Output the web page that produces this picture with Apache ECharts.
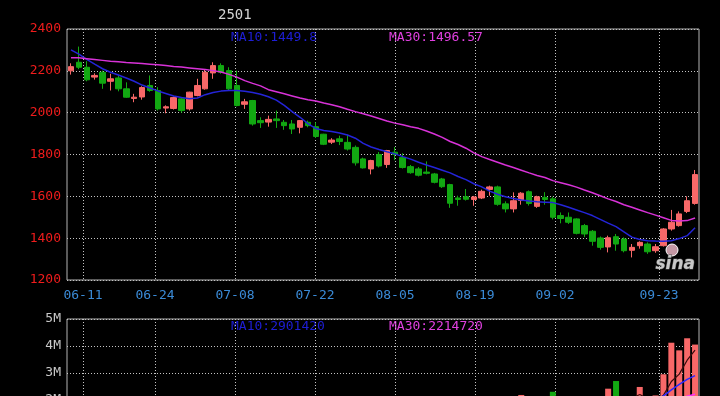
<!DOCTYPE html>
<html>
<head>
<meta charset="utf-8">
<script src="https://cdn.jsdelivr.net/npm/echarts@6/dist/echarts.min.js"></script>
<style>
html,body{margin:0;padding:0;background:#000;}
#chart{width:720px;height:396px;}
</style>
</head>
<body>
<div id="chart"></div>
<script>
const dates = ['06-06','06-07','06-11','06-12','06-13','06-14','06-17','06-18','06-19','06-20','06-21','06-24','06-25','06-26','06-27','06-28',
'07-01','07-02','07-03','07-04','07-05','07-08','07-09','07-10','07-11','07-12','07-15','07-16','07-17','07-18','07-19','07-22','07-23','07-24','07-25','07-26','07-29','07-30','07-31',
'08-01','08-02','08-05','08-06','08-07','08-08','08-09','08-12','08-13','08-14','08-15','08-16','08-19','08-20','08-21','08-22','08-23','08-26','08-27','08-28','08-29','08-30',
'09-02','09-03','09-04','09-05','09-06','09-09','09-10','09-11','09-12','09-13','09-18','09-19','09-20','09-23','09-24','09-25','09-26','09-27','09-30'];
const tickDates = ['06-11','06-24','07-08','07-22','08-05','08-19','09-02','09-23'];

const openP  = [2200,2241,2217,2170,2193,2150,2166,2114,2068,2075,2130,2106,2022,2020,2066,2018,2082,2114,2190,2225,2201,2130,2040,2058,1962,1955,1970,1954,1946,1930,1954,1933,1897,1859,1875,1858,1834,1779,1731,1800,1752,1811,1785,1742,1731,1716,1707,1683,1656,1592,1598,1585,1592,1633,1645,1564,1540,1580,1622,1552,1595,1588,1508,1500,1492,1460,1433,1401,1358,1407,1396,1342,1364,1372,1340,1364,1444,1460,1528,1566];
const closeP = [2220,2217,2157,2178,2141,2162,2114,2074,2074,2120,2106,2018,2028,2072,2010,2098,2130,2193,2225,2193,2114,2034,2052,1946,1952,1968,1962,1938,1922,1962,1938,1886,1849,1869,1862,1826,1760,1736,1771,1745,1819,1800,1738,1713,1701,1710,1667,1646,1567,1585,1586,1597,1624,1645,1562,1540,1579,1615,1566,1598,1585,1500,1494,1476,1423,1420,1385,1356,1402,1372,1340,1356,1380,1335,1359,1444,1476,1516,1579,1704];
const lowP   = [2182,2208,2150,2158,2114,2106,2102,2071,2050,2062,2100,2010,1997,2015,2000,2010,2078,2110,2162,2186,2106,2030,2018,1938,1927,1933,1927,1918,1898,1901,1930,1879,1845,1850,1845,1819,1747,1733,1705,1738,1736,1773,1733,1708,1695,1705,1662,1640,1545,1555,1580,1555,1587,1603,1555,1523,1523,1560,1556,1545,1560,1490,1471,1468,1418,1405,1364,1345,1332,1340,1332,1308,1350,1325,1330,1360,1436,1455,1520,1560];
const highP  = [2236,2316,2246,2188,2201,2186,2177,2145,2090,2126,2178,2122,2035,2077,2072,2100,2162,2205,2241,2236,2217,2201,2066,2061,1978,1986,2010,1965,1965,1965,1962,1954,1899,1878,1890,1895,1843,1785,1775,1812,1822,1836,1806,1750,1740,1767,1712,1688,1660,1603,1635,1602,1632,1651,1651,1576,1619,1620,1628,1603,1620,1598,1523,1523,1495,1468,1439,1408,1412,1420,1404,1372,1385,1380,1372,1448,1535,1528,1600,1726];

const ma10 = [2300,2280,2255,2232,2210,2193,2180,2166,2150,2132,2118,2104,2092,2080,2072,2066,2070,2086,2096,2103,2106,2106,2102,2096,2088,2076,2060,2035,2005,1978,1948,1924,1915,1910,1903,1893,1878,1853,1836,1824,1813,1803,1790,1778,1763,1750,1738,1725,1712,1695,1680,1660,1645,1625,1610,1598,1590,1583,1578,1574,1572,1570,1560,1548,1535,1522,1508,1490,1472,1455,1430,1405,1394,1388,1386,1385,1388,1398,1412,1449.8];
const ma30 = [2262,2262,2258,2254,2250,2246,2243,2240,2238,2235,2232,2229,2225,2221,2218,2214,2210,2206,2201,2194,2183,2170,2153,2140,2128,2110,2100,2090,2080,2070,2062,2056,2046,2038,2028,2016,2005,1995,1984,1972,1960,1950,1942,1933,1925,1912,1898,1882,1862,1848,1830,1808,1790,1776,1763,1750,1738,1725,1712,1700,1690,1675,1665,1655,1644,1630,1617,1603,1588,1575,1560,1548,1535,1522,1510,1498,1485,1482,1484,1496.57];

const volume = [1534200,1687400,1421900,1365800,1498300,1576200,1302700,1445100,1612800,1389500,
1723600,1567300,1356900,1478200,1410600,1634700,1826300,1954100,1782500,1598600,
1705200,1846900,1412300,1769800,1356400,1289700,1533800,1402100,1478600,1367500,
1298400,1627300,1745900,1384200,1412700,1565300,1886200,1621400,1498700,1537600,
1718400,1493800,1622900,1584100,1476300,1399800,1542600,1613200,1927500,1688900,
1652300,1488200,1734600,1897500,2012800,1563900,1846100,2186400,1921400,1705800,
1584700,2304700,1612300,1478900,1936200,1702500,1874600,1803300,2418900,2702300,
1852300,1553600,2482700,1704500,2168900,2953100,4121600,3838400,4286300,4052800];

const RED = '#f86868', GREEN = '#12a812';
const MONO = '"DejaVu Sans Mono", "Liberation Mono", monospace';
const tickSet = new Set(tickDates);
const dotted = { color: '#c4c4c4', type: [1, 2], width: 1 };

function movingAvg(arr, n) {
  return arr.map((v, i) => {
    if (i < n - 1) return '-';
    let s = 0;
    for (let j = i - n + 1; j <= i; j++) s += arr[j];
    return s / n;
  });
}

const candles = openP.map((o, i) => [o, closeP[i], lowP[i], highP[i]]);
const volBars = volume.map((v, i) => ({ value: v, itemStyle: { color: closeP[i] >= openP[i] ? RED : GREEN } }));
const vma5 = movingAvg(volume, 5), vma10 = movingAvg(volume, 10), vma30 = movingAvg(volume, 30);

const chart = echarts.init(document.getElementById('chart'), null, { renderer: 'canvas' });
const lastIdx = dates.length - 1;
chart.setOption({
  backgroundColor: '#000',
  animation: false,
  grid: [
    { left: 67, right: 21, top: 29, height: 251, show: true, borderColor: '#b4b4b4', borderWidth: 1, backgroundColor: 'transparent', containLabel: false, outerBoundsMode: 'none' },
    { left: 67, right: 21, top: 319, height: 135, show: true, borderColor: '#b4b4b4', borderWidth: 1, backgroundColor: 'transparent', containLabel: false, outerBoundsMode: 'none' }
  ],
  xAxis: [
    { type: 'category', gridIndex: 0, data: dates, boundaryGap: true, show: false },
    { type: 'category', gridIndex: 0, data: dates, boundaryGap: false, position: 'bottom',
      axisLine: { show: false }, axisTick: { show: false },
      axisLabel: { interval: (i, v) => tickSet.has(v), color: '#3a8ad6', fontFamily: MONO, fontSize: 13, margin: 9 },
      splitLine: { show: true, interval: (i, v) => tickSet.has(v), lineStyle: dotted } },
    { type: 'category', gridIndex: 1, data: dates, boundaryGap: true, show: false },
    { type: 'category', gridIndex: 1, data: dates, boundaryGap: false, position: 'bottom',
      axisLine: { show: false }, axisTick: { show: false }, axisLabel: { show: false },
      splitLine: { show: true, interval: (i, v) => tickSet.has(v), lineStyle: dotted } }
  ],
  yAxis: [
    { type: 'value', gridIndex: 0, min: 1200, max: 2400, interval: 200,
      axisLine: { show: false }, axisTick: { show: false },
      axisLabel: { color: '#f01c1c', fontFamily: MONO, fontSize: 13, margin: 6, formatter: v => String(v) },
      splitLine: { show: true, lineStyle: dotted } },
    { type: 'value', gridIndex: 1, min: 0, max: 5000000, interval: 1000000,
      axisLine: { show: false }, axisTick: { show: false },
      axisLabel: { color: '#c8c8c8', fontFamily: MONO, fontSize: 13, margin: 6, formatter: v => (v / 1000000) + 'M' },
      splitLine: { show: true, lineStyle: dotted } }
  ],
  series: [
    { type: 'candlestick', xAxisIndex: 0, yAxisIndex: 0, data: candles, barWidth: 6,
      itemStyle: { color: RED, color0: GREEN, borderColor: RED, borderColor0: GREEN, borderWidth: 1 } },
    { type: 'line', xAxisIndex: 0, yAxisIndex: 0, data: ma10, symbol: 'none', lineStyle: { color: '#2424d8', width: 1.5 } },
    { type: 'line', xAxisIndex: 0, yAxisIndex: 0, data: ma30, symbol: 'none', lineStyle: { color: '#d832d8', width: 1.5 } },
    { type: 'bar', xAxisIndex: 2, yAxisIndex: 1, data: volBars, barWidth: 6 },
    { type: 'line', xAxisIndex: 2, yAxisIndex: 1, data: vma5, symbol: 'none', lineStyle: { color: '#3a0c0c', width: 1.2 } },
    { type: 'line', xAxisIndex: 2, yAxisIndex: 1, data: vma10, symbol: 'none', lineStyle: { color: '#2a2aff', width: 1.5 } },
    { type: 'line', xAxisIndex: 2, yAxisIndex: 1, data: vma30, symbol: 'none', lineStyle: { color: '#ff30ff', width: 1.5 } }
  ],
  graphic: [
    { type: 'text', left: 218, top: 8, style: { text: '2501', fill: '#d4d4d4', font: '14px ' + MONO } },
    { type: 'text', left: 231, top: 31, style: { text: 'MA10:' + ma10[lastIdx], fill: '#1e1ed6', font: '13px ' + MONO } },
    { type: 'text', left: 389, top: 31, style: { text: 'MA30:' + ma30[lastIdx], fill: '#e040e0', font: '13px ' + MONO } },
    { type: 'text', left: 231, top: 320, style: { text: 'MA10:' + Math.round(vma10[lastIdx]), fill: '#1e1ed6', font: '13px ' + MONO } },
    { type: 'text', left: 389, top: 320, style: { text: 'MA30:' + Math.round(vma30[lastIdx]), fill: '#e040e0', font: '13px ' + MONO } },
    { type: 'circle', shape: { cx: 672, cy: 250, r: 6 }, style: { fill: 'rgba(245,190,205,0.8)', stroke: '#ffffff', lineWidth: 1 } },
    { type: 'text', left: 655, top: 256, style: { text: 'sina', fill: '#c8c8c8', stroke: '#505050', lineWidth: 1, font: 'italic bold 17px "DejaVu Sans", sans-serif' } }
  ]
});
</script>
</body>
</html>
